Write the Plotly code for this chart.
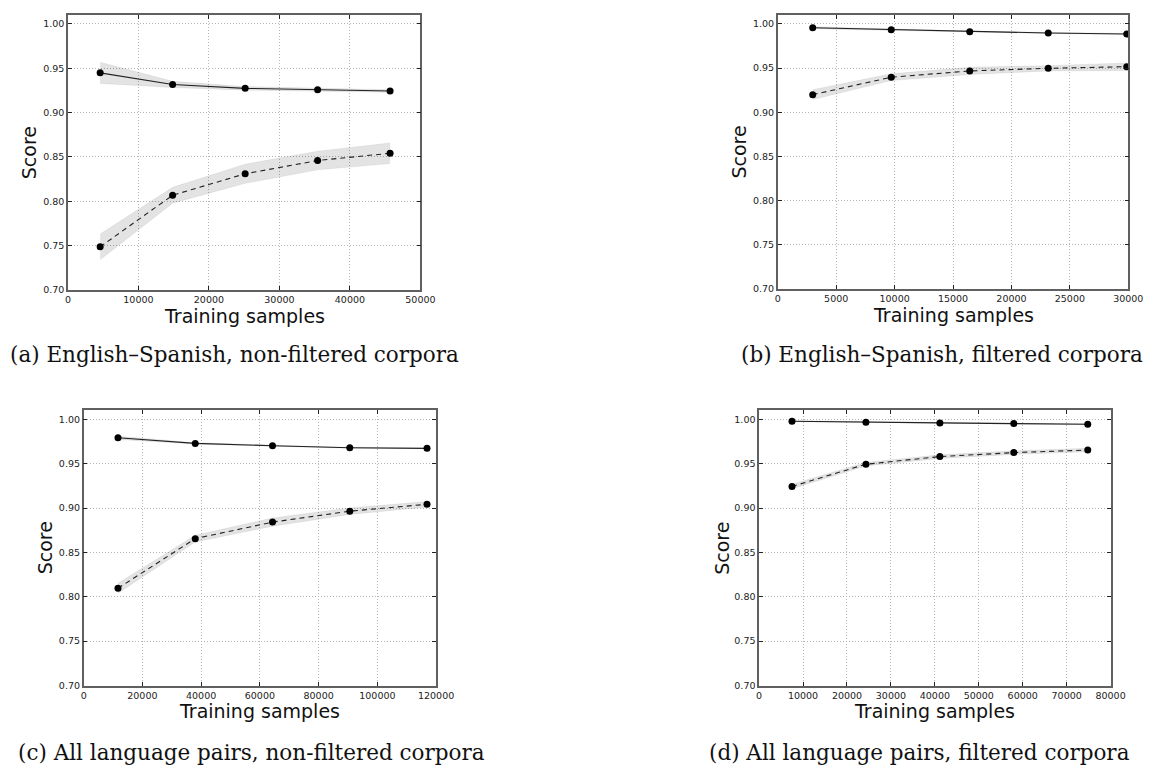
import plotly.graph_objects as go

W, H = 1153, 766

# ---------------- data ----------------
captions = [
    "(a) English\u2013Spanish, non-filtered corpora",
    "(b) English\u2013Spanish, filtered corpora",
    "(c) All language pairs, non-filtered corpora",
    "(d) All language pairs, filtered corpora",
]

sizes_a = [4570, 14850, 25140, 35420, 45700]
train_a = [0.9448, 0.9317, 0.9273, 0.9257, 0.9243]
train_std_a = [0.0120, 0.0035, 0.0020, 0.0015, 0.0015]
test_a = [0.7488, 0.8069, 0.8311, 0.8460, 0.8542]
test_std_a = [0.0145, 0.0089, 0.0108, 0.0105, 0.0116]

sizes_b = [2990, 9710, 16430, 23150, 29870]
train_b = [0.9955, 0.9933, 0.9910, 0.9896, 0.9884]
train_std_b = [0.0012, 0.0008, 0.0006, 0.0006, 0.0006]
test_b = [0.9199, 0.9396, 0.9467, 0.9497, 0.9515]
test_std_b = [0.0056, 0.0038, 0.0041, 0.0030, 0.0043]

sizes_c = [11690, 37990, 64300, 90600, 116900]
train_c = [0.9791, 0.9728, 0.9702, 0.9679, 0.9672]
train_std_c = [0.0018, 0.0008, 0.0006, 0.0005, 0.0005]
test_c = [0.8096, 0.8655, 0.8841, 0.8964, 0.9042]
test_std_c = [0.0056, 0.0038, 0.0046, 0.0037, 0.0030]

sizes_d = [7480, 24310, 41140, 57970, 74800]
train_d = [0.9978, 0.9966, 0.9959, 0.9951, 0.9944]
train_std_d = [0.0005, 0.0004, 0.0004, 0.0004, 0.0004]
test_d = [0.9243, 0.9493, 0.9579, 0.9624, 0.9653]
test_std_d = [0.0025, 0.0020, 0.0020, 0.0020, 0.0020]

x_max = [50000, 30000, 120000, 80000]
x_dtick = [10000, 5000, 20000, 10000]
y_ticks = [0.70, 0.75, 0.80, 0.85, 0.90, 0.95, 1.00]

# ---------------- layout (pixel boxes of the four axes) ----------------
boxes = [
    (58, 417, 7, 284),
    (781, 1138, 7, 283),
    (74, 433, 405, 682),
    (762, 1120, 405, 682),
]
caption_pos = [(228, 349), (948, 349), (245, 749), (925, 749)]
score_x = [18, 742, 35, 724]

panels = [
    (sizes_a, train_a, train_std_a, test_a, test_std_a),
    (sizes_b, train_b, train_std_b, test_b, test_std_b),
    (sizes_c, train_c, train_std_c, test_c, test_std_c),
    (sizes_d, train_d, train_std_d, test_d, test_std_d),
]

fig = go.Figure()
annotations = []
layout_axes = {}

band_fill = "rgba(0,0,0,0.11)"
band_edge = "rgba(0,0,0,0.10)"

for i, (sz, tr, trs, te, tes) in enumerate(panels):
    n = i + 1
    xa = "x" if n == 1 else f"x{n}"
    ya = "y" if n == 1 else f"y{n}"
    x0, x1, y0, y1 = boxes[i]

    for mean, std in ((tr, trs), (te, tes)):
        lo = [m - s for m, s in zip(mean, std)]
        hi = [m + s for m, s in zip(mean, std)]
        fig.add_trace(go.Scatter(x=sz, y=lo, mode="lines", xaxis=xa, yaxis=ya,
                                 line=dict(color=band_edge, width=0.6),
                                 showlegend=False, hoverinfo="skip"))
        fig.add_trace(go.Scatter(x=sz, y=hi, mode="lines", xaxis=xa, yaxis=ya,
                                 line=dict(color=band_edge, width=0.6),
                                 fill="tonexty", fillcolor=band_fill,
                                 showlegend=False, hoverinfo="skip"))

    fig.add_trace(go.Scatter(x=sz, y=tr, mode="lines+markers", xaxis=xa, yaxis=ya,
                             line=dict(color="#222222", width=1.1),
                             marker=dict(color="black", size=7),
                             showlegend=False, name="Training score"))
    fig.add_trace(go.Scatter(x=sz, y=te, mode="lines+markers", xaxis=xa, yaxis=ya,
                             line=dict(color="#222222", width=1.1, dash="5px,4px"),
                             marker=dict(color="black", size=7),
                             showlegend=False, name="Cross-validation score"))

    common = dict(showline=True, linecolor="#606060", linewidth=1.5, mirror="allticks",
                  ticks="inside", ticklen=4, tickcolor="#222222", tickwidth=1,
                  showgrid=True, gridcolor="#b5b5b5", griddash="1px,2px", gridwidth=1,
                  zeroline=False,
                  tickfont=dict(family="DejaVu Sans", size=9.5, color="#222222"))

    layout_axes["xaxis" if n == 1 else f"xaxis{n}"] = dict(
        domain=[x0 / W, x1 / W], anchor=ya, range=[0, x_max[i]],
        tick0=0, dtick=x_dtick[i], tickformat="d", **common)
    layout_axes["yaxis" if n == 1 else f"yaxis{n}"] = dict(
        domain=[1 - y1 / H, 1 - y0 / H], anchor=xa, range=[0.70, 1.01],
        tickvals=y_ticks, ticktext=[f"{v:.2f}" for v in y_ticks], **common)

    annotations.append(dict(text="Score", textangle=-90, x=score_x[i] / W, y=1 - (y0 + y1) / 2 / H,
                            xref="paper", yref="paper", showarrow=False,
                            xanchor="center", yanchor="middle",
                            font=dict(family="DejaVu Sans", size=19, color="#111111")))
    annotations.append(dict(text="Training samples", x=(x0 + x1) / 2 / W, y=1 - (y1 + 26) / H,
                            xref="paper", yref="paper", showarrow=False,
                            xanchor="center", yanchor="middle",
                            font=dict(family="DejaVu Sans", size=19, color="#111111")))
    cx, cy = caption_pos[i]
    annotations.append(dict(text=captions[i], x=cx / W, y=1 - cy / H,
                            xref="paper", yref="paper", showarrow=False,
                            xanchor="center", yanchor="middle",
                            font=dict(family="DejaVu Serif", size=21.5, color="#111111")))

fig.update_layout(width=W, height=H, margin=dict(l=0, r=0, t=0, b=0),
                  paper_bgcolor="white", plot_bgcolor="white",
                  annotations=annotations, **layout_axes)

fig.write_html("out.html")
